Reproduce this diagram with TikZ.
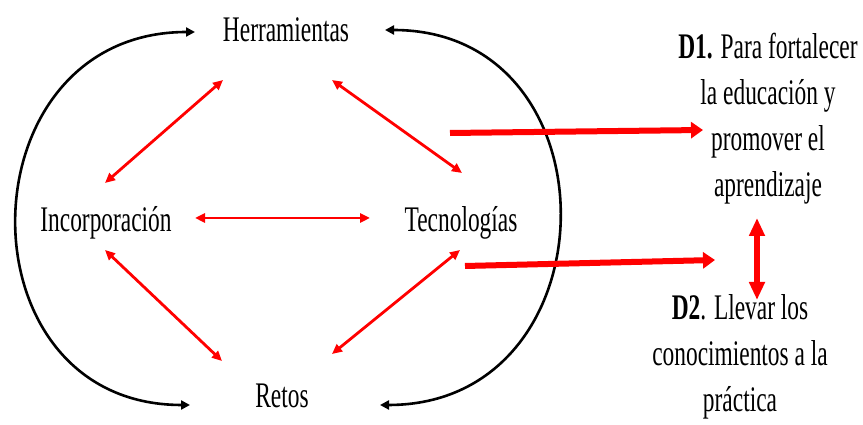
\documentclass[tikz,border=0pt]{standalone}
\usepackage{fontspec}
\setmainfont{Liberation Serif}[FakeStretch=0.65]
\usetikzlibrary{arrows.meta}
\begin{document}
\begin{tikzpicture}[x=1pt, y=1pt,
		lbl/.style = {font=\fontsize{36}{46}\selectfont, inner sep=0pt, anchor=base},
		ring/.style = {draw=black, line width=2.6pt, {Triangle[length=9pt,width=9pt]}-{Triangle[length=9pt,width=9pt]}},
		pair/.style = {draw=red, line width=2.8pt, {Triangle[length=10pt,width=9pt]}-{Triangle[length=10pt,width=9pt]}},
		lead/.style = {draw=red, line width=6pt, -{Triangle[length=12pt,width=16pt]}},
		dual/.style = {draw=red, line width=6pt, {Triangle[length=18pt,width=15pt]}-{Triangle[length=18pt,width=15pt]}}]
		\useasboundingbox (0,0) rectangle (863,425);
		\node[lbl] (her) at (286,383) {Herramientas};
		\node[lbl] (inc) at (106,193) {Incorporación};
		\node[lbl] (tec) at (461,193) {Tecnologías};
		\node[lbl] (ret) at (282,17) {Retos};
		\node[lbl, align=center] (d1) at (768,228) {\textbf{D1.} Para fortalecer\\la educación y\\promover el\\aprendizaje};
		\node[lbl, align=center] (d2) at (740,13) {\textbf{D2}. Llevar los\\conocimientos a la\\práctica};
		\coordinate (s1) at (450,292);
		\coordinate (s2) at (465,159);
		\draw[ring] ([xshift=-91pt,yshift=10pt]her.base) to[out=180, in=180, looseness=1.6] ([xshift=-92pt,yshift=3pt]ret.base);
		\draw[ring] ([xshift=99pt,yshift=12pt]her.base) to[out=0, in=0, looseness=1.6] ([xshift=98pt,yshift=3pt]ret.base);
		\draw[pair] ([xshift=-63pt,yshift=-38pt]her.base) -- ([xshift=-1pt,yshift=49pt]inc.base);
		\draw[pair] ([xshift=46pt,yshift=-38pt]her.base) -- ([xshift=1pt,yshift=59pt]tec.base);
		\draw[pair] ([xshift=89pt,yshift=14pt]inc.base) -- ([xshift=-91pt,yshift=14pt]tec.base);
		\draw[pair] ([xshift=-1pt,yshift=-18pt]inc.base) -- ([xshift=-60pt,yshift=47pt]ret.base);
		\draw[pair] ([xshift=-1pt,yshift=-18pt]tec.base) -- ([xshift=50pt,yshift=54pt]ret.base);
		\draw[lead] (s1) -- ([xshift=-65pt,yshift=67pt]d1.base);
		\draw[lead] (s2) -- ([xshift=-25pt,yshift=152pt]d2.base);
		\draw[dual] ([xshift=-11pt,yshift=-21pt]d1.base) -- ([xshift=17pt,yshift=112pt]d2.base);
	\end{tikzpicture}
\end{document}
